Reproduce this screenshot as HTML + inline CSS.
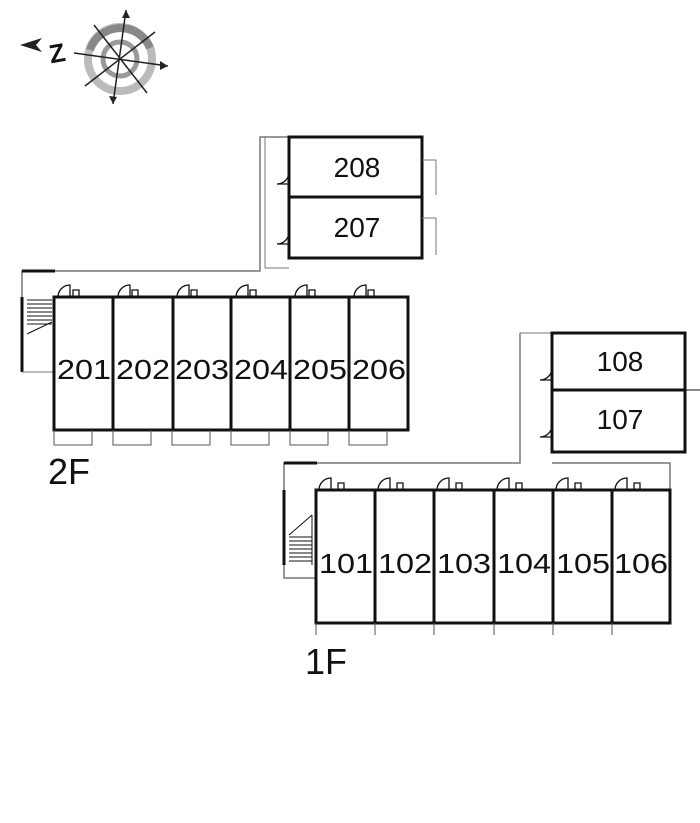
<!DOCTYPE html>
<html><head><style>body{margin:0;background:#fff}svg{display:block}text{font-family:"Liberation Sans",sans-serif;fill:#111}</style></head><body>
<svg width="700" height="823" viewBox="0 0 700 823" xmlns="http://www.w3.org/2000/svg">
<!-- compass -->
<circle cx="120" cy="59" r="32" fill="none" stroke="#bbb" stroke-width="8"/>
<path d="M90 50 A32 32 0 0 1 150 48" fill="none" stroke="#888" stroke-width="8"/>
<circle cx="120" cy="59" r="17" fill="none" stroke="#999" stroke-width="5"/>
<g stroke="#222" stroke-width="1.5">
<line x1="74" y1="53" x2="168" y2="66"/><line x1="126" y1="10" x2="113" y2="104"/>
<line x1="94" y1="25" x2="147" y2="93"/><line x1="155" y1="32" x2="85" y2="86"/>
</g>
<polygon points="168,66 160,61 160,70" fill="#222"/>
<polygon points="126,10 122,18 130,18" fill="#222"/>
<polygon points="113,104 109,96 117,97" fill="#222"/>
<polygon points="20,45 42,38 36,45 42,52" fill="#222"/>
<text x="49" y="62" font-size="26" font-weight="bold" transform="rotate(-10 58 52)">Z</text>
<g fill="none" stroke="#111">
<!-- 2F walkway -->
<path d="M22 372 V271 H260 V137 H289" stroke="#777" stroke-width="1.5"/>
<path d="M22 271 H55" stroke-width="3"/>
<path d="M22 297 V372" stroke-width="3"/>
<path d="M22 372 H54" stroke="#777"/>
<path d="M265 137 V268 M265 268 H289" stroke="#777"/>
<g stroke-width="1">
<path d="M27 300 H52 M27 304 H52 M27 308 H52 M27 312 H52 M27 316 H52 M27 320 H52 M27 324 H52 M27 334 L52 322"/>
</g>
<rect x="289" y="137" width="133" height="121" stroke-width="3"/>
<line x1="289" y1="197" x2="422" y2="197" stroke-width="3"/>
<path d="M422 160 H436 V195 M422 218 H436 V255" stroke="#777"/>
<rect x="54" y="297" width="354" height="133" stroke-width="3"/>
<path d="M113 297V430 M173 297V430 M231 297V430 M290 297V430 M349 297V430" stroke-width="3"/>
<g stroke="#555">
<path d="M54 430v15h38v-15 M113 430v15h38v-15 M172 430v15h38v-15 M231 430v15h38v-15 M290 430v15h38v-15 M349 430v15h38v-15"/>
</g>
<g stroke-width="1.3">
<path d="M58 297 A12 12 0 0 1 70 285 V297 M118 297 A12 12 0 0 1 130 285 V297 M177 297 A12 12 0 0 1 189 285 V297 M236 297 A12 12 0 0 1 248 285 V297 M295 297 A12 12 0 0 1 307 285 V297 M354 297 A12 12 0 0 1 366 285 V297"/>
<path d="M73 297v-7h6v7 M132 297v-7h6v7 M191 297v-7h6v7 M250 297v-7h6v7 M309 297v-7h6v7 M368 297v-7h6v7"/>
<path d="M289 172 A12 12 0 0 1 277 184 H289 M289 232 A12 12 0 0 1 277 244 H289"/>
</g>
<path d="M520 333 V463 H284 V578 H316 M552 463 H670 V490" stroke="#777" stroke-width="1.5"/>
<path d="M520 333 H552" stroke="#777"/>
<path d="M284 463 H317" stroke-width="3"/>
<path d="M284 490 V565" stroke-width="3"/>
<g stroke-width="1">
<path d="M289 535 L312 515 M289 537 H312 M289 541 H312 M289 545 H312 M289 549 H312 M289 553 H312 M289 557 H312 M289 561 H312 M312 515 V565"/>
</g>
<rect x="552" y="333" width="133" height="119" stroke-width="3"/>
<line x1="552" y1="390" x2="685" y2="390" stroke-width="3"/>
<line x1="685" y1="390" x2="700" y2="390"/>
<path d="M552 368 A12 12 0 0 1 540 380 H552 M552 425 A12 12 0 0 1 540 437 H552" stroke-width="1.3"/>
<rect x="316" y="490" width="354" height="133" stroke-width="3"/>
<path d="M375 490V623 M434 490V623 M494 490V623 M553 490V623 M612 490V623" stroke-width="3"/>
<path d="M316 623v12 M375 623v12 M434 623v12 M494 623v12 M553 623v12 M612 623v12" stroke="#555"/>
<g stroke-width="1.3">
<path d="M319 490 A12 12 0 0 1 331 478 V490 M378 490 A12 12 0 0 1 390 478 V490 M437 490 A12 12 0 0 1 449 478 V490 M497 490 A12 12 0 0 1 509 478 V490 M556 490 A12 12 0 0 1 568 478 V490 M615 490 A12 12 0 0 1 627 478 V490"/>
<path d="M338 490v-7h6v7 M397 490v-7h6v7 M456 490v-7h6v7 M516 490v-7h6v7 M575 490v-7h6v7 M634 490v-7h6v7"/>
</g>
</g>
<g font-size="28" text-anchor="middle" textLength="54">
<text x="357" y="177">208</text><text x="357" y="237">207</text>
<text x="84" y="379" textLength="54" lengthAdjust="spacingAndGlyphs">201</text><text x="143" y="379" textLength="54" lengthAdjust="spacingAndGlyphs">202</text><text x="202" y="379" textLength="54" lengthAdjust="spacingAndGlyphs">203</text><text x="261" y="379" textLength="54" lengthAdjust="spacingAndGlyphs">204</text><text x="320" y="379" textLength="54" lengthAdjust="spacingAndGlyphs">205</text><text x="379" y="379" textLength="54" lengthAdjust="spacingAndGlyphs">206</text>
<text x="620" y="371">108</text><text x="620" y="429">107</text>
<text x="346" y="573" textLength="54" lengthAdjust="spacingAndGlyphs">101</text><text x="405" y="573" textLength="54" lengthAdjust="spacingAndGlyphs">102</text><text x="464" y="573" textLength="54" lengthAdjust="spacingAndGlyphs">103</text><text x="524" y="573" textLength="54" lengthAdjust="spacingAndGlyphs">104</text><text x="583" y="573" textLength="54" lengthAdjust="spacingAndGlyphs">105</text><text x="641" y="573" textLength="54" lengthAdjust="spacingAndGlyphs">106</text>
</g>
<text x="48" y="484" font-size="36">2F</text>
<text x="305" y="674" font-size="36">1F</text>
</svg>
</body></html>
